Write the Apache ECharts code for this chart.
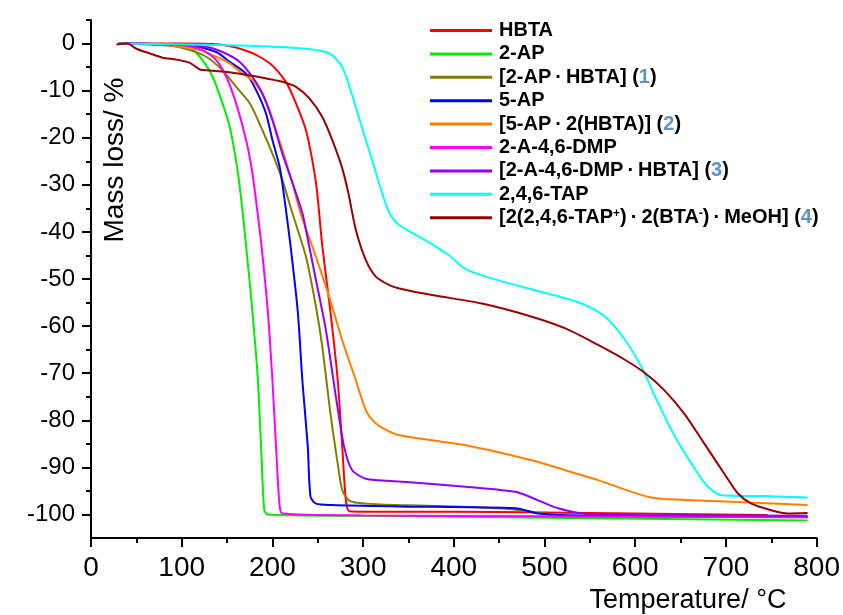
<!DOCTYPE html>
<html>
<head>
<meta charset="utf-8">
<script src="https://cdn.jsdelivr.net/npm/echarts@6/dist/echarts.min.js"></script>
<style>
  html, body { margin: 0; padding: 0; background: #fff; }
  #chart { width: 843px; height: 615px; }
</style>
</head>
<body>
<div id="chart"></div>
<script>
// Thermogravimetric curves: [temperature °C, mass loss %]
const hbta = [[30,0],[100,0],[145,-0.3],[175,-1.8],[197,-4.2],[215,-8.2],[226,-12.7],[237,-18.4],[244,-24.8],[249,-31],[255,-43],[264,-57],[272,-71.5],[277,-85.6],[281,-97],[285,-99.3],[300,-99.4],[400,-99.4],[500,-99.6],[600,-99.8],[746,-100.1]];
const ap2 = [[30,0],[80,-0.1],[100,-0.4],[109,-0.8],[123,-3.5],[134,-7],[145,-12.7],[153,-17.7],[160,-25],[165,-32],[171,-43],[178,-57],[184,-71.5],[187.5,-85.6],[191,-99],[195,-100],[300,-100.3],[500,-100.7],[790,-101.3]];
const salt1 = [[30,0],[90,-0.5],[109,-1.4],[127,-2.8],[145,-5.7],[160,-9.2],[175,-12.7],[189,-18.4],[200,-23.4],[211,-29],[222,-36],[237,-45.3],[248,-55.9],[255,-64.4],[264,-78.6],[272,-89.2],[277,-94.8],[285,-97.1],[303,-97.7],[340,-98],[400,-98.3],[449,-98.7],[486,-99.4],[523,-100.4],[600,-100.5],[790,-100.6]];
const ap5 = [[30,0],[110,-0.4],[138,-1.8],[153,-3.9],[171,-6.4],[182,-9.9],[193,-14.9],[200,-20.5],[208,-26.2],[214,-34],[220,-43],[228,-57],[233,-71.5],[239,-85.6],[242,-96.2],[248,-97.7],[266,-98],[340,-98.3],[468,-98.7],[493,-99.8],[541,-100.2],[790,-100.5]];
const salt2 = [[30,0],[80,-0.3],[120,-1.4],[138,-2.8],[153,-4.2],[167,-6.4],[178,-7.8],[189,-10.8],[197,-14.2],[205,-19],[215,-25],[224,-31],[231,-36],[248,-45.3],[262.6,-53.8],[277,-63],[292,-71.5],[303,-77.9],[312,-80.3],[321,-81.6],[340,-83.2],[413,-85.3],[486,-88.5],[523,-90.6],[559,-92.7],[596,-95.2],[618,-96.4],[632,-96.7],[706,-97.3],[790,-98]];
const dmp = [[30,0],[100,-0.3],[123,-1.4],[138,-3.5],[149,-7],[160,-12.7],[171,-20.5],[178,-27.6],[183,-35],[188,-43],[195,-57],[200,-71.5],[204,-85.6],[207.7,-97.6],[211,-99.8],[300,-100.2],[500,-100.4],[790,-100.6]];
const salt3 = [[30,0],[100,-0.3],[127,-0.7],[145,-1.8],[164,-3.9],[178,-7.1],[189,-10.6],[200,-16.3],[211,-23.4],[222,-29.5],[233,-36],[237,-39.6],[248,-50.2],[259,-60.9],[270,-75],[279,-85.6],[288,-90.6],[303,-92.4],[340,-93],[413,-94.1],[468,-95.2],[493,-97],[515,-98.7],[545,-99.9],[600,-100.1],[790,-100.3]];
const tap = [[30,0],[164,-0.4],[237,-1.1],[263,-2.1],[277,-5],[288,-11],[299,-18],[310,-24.8],[321,-31.8],[329,-36],[340,-38.6],[369,-41.8],[395,-45],[410,-47.5],[420,-48.5],[449,-50.3],[504,-53.1],[541,-55.2],[567,-58],[589,-63],[607,-68.7],[622,-75],[640,-82.1],[662,-89.2],[680,-94.1],[695,-95.9],[742,-96.1],[790,-96.4]];
const salt4 = [[28,-0.2],[40,0],[50,-1.1],[65,-2.1],[79,-3],[94,-3.4],[109,-4.1],[120,-5.5],[131,-5.7],[164,-6.4],[193,-7.4],[211,-8.1],[226,-9.2],[241,-11.7],[255,-15.6],[266,-20.5],[277,-26.5],[284,-32],[292,-39.6],[303,-46],[314,-49.5],[329,-51.3],[340,-52],[376,-53.4],[431,-55.2],[486,-58],[523,-60.5],[559,-64],[589,-67.2],[611,-70],[632,-73.6],[654,-78.6],[676,-84.9],[698,-91.3],[713,-95.5],[728,-97.7],[750,-99.1],[768,-99.8],[790,-99.7]];

const seriesNames = ['HBTA', '2-AP', '[2-AP·HBTA] (1)', '5-AP', '[5-AP·2(HBTA)] (2)', '2-A-4,6-DMP', '[2-A-4,6-DMP·HBTA] (3)', '2,4,6-TAP', '[2(2,4,6-TAP+)·2(BTA-)·MeOH] (4)'];
const legendLabels = [
  'HBTA',
  '2-AP',
  '[2-AP\u2009·\u2009HBTA] ({n|1})',
  '5-AP',
  '[5-AP\u2009·\u20092(HBTA)] ({n|2})',
  '2-A-4,6-DMP',
  '[2-A-4,6-DMP\u2009·\u2009HBTA] ({n|3})',
  '2,4,6-TAP',
  '[2(2,4,6-TAP{sup|+})\u2009·\u20092(BTA{sup|-})\u2009·\u2009MeOH] ({n|4})'
];
const seriesData = [hbta, ap2, salt1, ap5, salt2, dmp, salt3, tap, salt4];
const seriesColors = ['#ff0000', '#00ee00', '#808000', '#0000ff', '#ff8000', '#ff00ff', '#8f00ff', '#00ffff', '#990000'];

const yMajor = [0, -10, -20, -30, -40, -50, -60, -70, -80, -90, -100];
const yMinor = [5, -5, -15, -25, -35, -45, -55, -65, -75, -85, -95];

const FONT = '"Liberation Sans", Arial, sans-serif';
const chart = echarts.init(document.getElementById('chart'), null, { renderer: 'canvas' });

const labelMap = {};
seriesNames.forEach((n, i) => { labelMap[n] = legendLabels[i]; });

chart.setOption({
  backgroundColor: '#ffffff',
  animation: false,
  grid: { left: 91, right: 24, top: 20, bottom: 77, containLabel: false },
  legend: {
    orient: 'vertical',
    left: 430,
    top: 20,
    padding: 0,
    itemGap: 2.4,
    itemWidth: 62,
    itemHeight: 3,
    icon: 'rect',
    data: seriesNames,
    formatter: (name) => labelMap[name],
    textStyle: {
      fontFamily: FONT,
      fontSize: 20,
      fontWeight: 'bold',
      color: '#000',
      lineHeight: 21,
      padding: [0, 0, 0, 2],
      rich: {
        n: { fontFamily: FONT, fontSize: 20, fontWeight: 'bold', color: '#5e93c5', lineHeight: 21 },
        sup: { fontFamily: FONT, fontSize: 12, fontWeight: 'bold', color: '#000', verticalAlign: 'top', lineHeight: 21 }
      }
    }
  },
  xAxis: {
    type: 'value',
    min: 0,
    max: 800,
    interval: 100,
    axisLine: { show: true, onZero: false, lineStyle: { color: '#000', width: 2 } },
    axisTick: { show: true, length: 9, lineStyle: { color: '#000', width: 2 } },
    minorTick: { show: true, splitNumber: 2, length: 5, lineStyle: { color: '#000', width: 2 } },
    splitLine: { show: false },
    axisLabel: { fontFamily: FONT, fontSize: 28, color: '#000', margin: 16 }
  },
  yAxis: [
    {
      type: 'value',
      min: -105,
      max: 5,
      position: 'left',
      axisLine: { show: true, onZero: false, lineStyle: { color: '#000', width: 2 } },
      axisTick: { show: true, length: 9, customValues: yMajor, lineStyle: { color: '#000', width: 2 } },
      axisLabel: { fontFamily: FONT, fontSize: 24, color: '#000', margin: 16, customValues: yMajor },
      splitLine: { show: false }
    },
    {
      type: 'value',
      min: -105,
      max: 5,
      position: 'left',
      axisLine: { show: false, onZero: false },
      axisTick: { show: true, length: 5, customValues: yMinor, lineStyle: { color: '#000', width: 2 } },
      axisLabel: { show: false },
      splitLine: { show: false }
    }
  ],
  graphic: [
    {
      type: 'text',
      x: 115,
      y: 160,
      rotation: Math.PI / 2,
      style: {
        text: 'Mass loss/ %',
        fontFamily: FONT,
        fontSize: 28,
        fill: '#000',
        align: 'center',
        verticalAlign: 'middle'
      }
    },
    {
      type: 'text',
      x: 688,
      y: 601,
      style: {
        text: 'Temperature/ °C',
        fontFamily: FONT,
        fontSize: 27,
        fill: '#000',
        align: 'center',
        verticalAlign: 'middle'
      }
    }
  ],
  series: seriesNames.map((name, i) => ({
    name: name,
    type: 'line',
    yAxisIndex: 0,
    data: seriesData[i],
    smooth: 0.25,
    showSymbol: false,
    symbol: 'none',
    clip: true,
    color: seriesColors[i],
    lineStyle: { color: seriesColors[i], width: 2 }
  }))
});
</script>
</body>
</html>
